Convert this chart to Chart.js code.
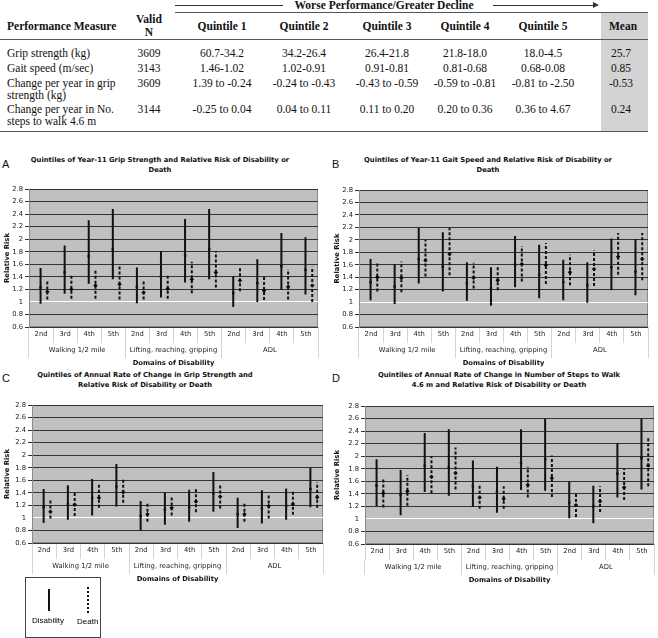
<!DOCTYPE html>
<html>
<head>
<meta charset="utf-8">
<script src="https://cdn.jsdelivr.net/npm/chart.js@4.4.1/dist/chart.umd.min.js"></script>
<style>
  body { margin: 0; background: #fff; }
  #page { position: relative; width: 658px; height: 638px; overflow: hidden; font-family: "Liberation Serif", serif; }
  .t { position: absolute; white-space: nowrap; font-size: 11.5px; line-height: 12px; color: #111; }
  .c { transform: translateX(-50%); }
  .b { font-weight: bold; }
  .rule { position: absolute; height: 0; border-top: 1px solid #555; }
  .panel { position: absolute; }
  .letter { position: absolute; font: 11px "Liberation Sans", sans-serif; color: #111; }
  .ptitle { position: absolute; font: bold 6.8px "DejaVu Sans", sans-serif; line-height: 10px; text-align: center; white-space: nowrap; transform: translateX(-50%); color: #111; }
  #legend { position: absolute; left: 25px; top: 577px; width: 74px; height: 59px; border: 1px solid #444; font: 8px "Liberation Sans", sans-serif; }
</style>
</head>
<body>
<div id="page">
  <div id="table"></div>
  <div class="letter" style="left:2px;top:158px">A</div>
  <div class="letter" style="left:332px;top:158px">B</div>
  <div class="letter" style="left:2px;top:372px">C</div>
  <div class="letter" style="left:332px;top:372px">D</div>
  <div class="ptitle" style="left:160px;top:155px">Quintiles of Year-11 Grip Strength and Relative Risk of Disability or<br>Death</div>
  <div class="ptitle" style="left:488px;top:155px">Quintiles of Year-11 Gait Speed and Relative Risk of Disability or<br>Death</div>
  <div class="ptitle" style="left:145px;top:370px">Quintiles of Annual Rate of Change in Grip Strength and<br>Relative Risk of Disability or Death</div>
  <div class="ptitle" style="left:499px;top:370px">Quintiles of Annual Rate of Change in Number of Steps to Walk<br>4.6 m and Relative Risk of Disability or Death</div>
  <div class="panel" style="left:0;top:182px;width:330px;height:188px"><canvas id="chartA"></canvas></div>
  <div class="panel" style="left:330px;top:182px;width:328px;height:188px"><canvas id="chartB"></canvas></div>
  <div class="panel" style="left:0;top:398px;width:330px;height:188px"><canvas id="chartC"></canvas></div>
  <div class="panel" style="left:330px;top:399px;width:328px;height:188px"><canvas id="chartD"></canvas></div>
  <div id="legend">
    <div style="position:absolute;left:22px;top:11px;width:0;height:22px;border-left:2px solid #111"></div>
    <div style="position:absolute;left:61px;top:9px;width:0;height:26px;border-left:2px dotted #111"></div>
    <div style="position:absolute;left:6px;top:38px">Disability</div>
    <div style="position:absolute;left:51px;top:39px">Death</div>
  </div>
</div>
<script>
// Table contents
const measures = [["Grip strength (kg)"], ["Gait speed (m/sec)"], ["Change per year in grip", "strength (kg)"], ["Change per year in No.", "steps to walk 4.6 m"]];
const validN = ["3609", "3143", "3609", "3144"];
const quintileHeads = ["Quintile 1", "Quintile 2", "Quintile 3", "Quintile 4", "Quintile 5"];
const quintileRanges = [
  ["60.7-34.2", "34.2-26.4", "26.4-21.8", "21.8-18.0", "18.0-4.5"],
  ["1.46-1.02", "1.02-0.91", "0.91-0.81", "0.81-0.68", "0.68-0.08"],
  ["1.39 to -0.24", "-0.24 to -0.43", "-0.43 to -0.59", "-0.59 to -0.81", "-0.81 to -2.50"],
  ["-0.25 to 0.04", "0.04 to 0.11", "0.11 to 0.20", "0.20 to 0.36", "0.36 to 4.67"]
];
const means = ["25.7", "0.85", "-0.53", "0.24"];

// Chart categories
const quintileLabels = ["2nd", "3rd", "4th", "5th", "2nd", "3rd", "4th", "5th", "2nd", "3rd", "4th", "5th"];
const domainLabels = ["Walking 1/2 mile", "Lifting, reaching, gripping", "ADL"];

// [lower CI, relative risk, upper CI] per category
const gripDisability = [[0.97,1.23,1.54],[1.13,1.47,1.90],[1.29,1.73,2.30],[1.36,1.84,2.48],[0.98,1.24,1.55],[1.07,1.40,1.81],[1.31,1.74,2.32],[1.36,1.84,2.48],[0.92,1.14,1.41],[1.00,1.30,1.68],[1.19,1.57,2.10],[1.12,1.51,2.03]];
const gripDeath = [[1.04,1.16,1.35],[1.05,1.20,1.44],[1.05,1.26,1.53],[1.04,1.28,1.59],[1.04,1.15,1.34],[1.05,1.21,1.44],[1.14,1.36,1.64],[1.23,1.47,1.81],[1.17,1.34,1.56],[1.03,1.18,1.42],[1.04,1.24,1.52],[1.00,1.26,1.56]];
const gaitDisability = [[1.03,1.32,1.69],[0.97,1.25,1.61],[1.30,1.69,2.19],[1.17,1.57,2.12],[1.02,1.30,1.64],[0.94,1.22,1.56],[1.24,1.60,2.06],[1.06,1.44,1.92],[1.03,1.32,1.68],[0.99,1.27,1.64],[1.19,1.56,2.02],[1.11,1.49,2.01]];
const gaitDeath = [[1.17,1.40,1.64],[1.16,1.39,1.65],[1.41,1.67,2.00],[1.43,1.77,2.19],[1.22,1.39,1.63],[1.19,1.35,1.59],[1.33,1.61,1.90],[1.29,1.59,1.95],[1.27,1.48,1.76],[1.26,1.53,1.83],[1.44,1.73,2.11],[1.35,1.69,2.11]];
const gripChangeDisability = [[0.92,1.17,1.46],[0.97,1.22,1.52],[1.04,1.32,1.62],[1.18,1.50,1.86],[0.80,1.03,1.27],[0.89,1.13,1.41],[0.94,1.17,1.45],[1.10,1.39,1.73],[0.84,1.06,1.32],[0.91,1.15,1.44],[0.97,1.19,1.47],[1.17,1.46,1.80]];
const gripChangeDeath = [[0.99,1.10,1.31],[1.03,1.21,1.41],[1.16,1.32,1.55],[1.24,1.41,1.64],[0.94,1.06,1.25],[1.04,1.16,1.35],[1.09,1.26,1.47],[1.15,1.34,1.55],[0.94,1.06,1.25],[0.99,1.19,1.39],[1.05,1.22,1.43],[1.16,1.33,1.57]];
const stepsChangeDisability = [[1.20,1.53,1.95],[1.06,1.38,1.78],[1.43,1.85,2.37],[1.37,1.82,2.43],[1.19,1.52,1.93],[1.10,1.43,1.83],[1.46,1.89,2.43],[1.45,1.95,2.60],[1.01,1.26,1.60],[0.93,1.20,1.53],[1.34,1.72,2.21],[1.47,1.97,2.60]];
const stepsChangeDeath = [[1.18,1.41,1.65],[1.21,1.44,1.70],[1.41,1.67,2.00],[1.47,1.73,2.14],[1.16,1.34,1.56],[1.16,1.32,1.52],[1.34,1.54,1.83],[1.35,1.65,2.01],[1.03,1.22,1.43],[1.11,1.28,1.52],[1.30,1.50,1.80],[1.52,1.85,2.29]];

const yMin = 0.6, yMax = 2.8, yStep = 0.2;

// ---- table ----
const table = document.getElementById("table");
function addText(txt, x, y, cls) {
  const d = document.createElement("div");
  d.className = "t " + (cls || "");
  d.style.left = x + "px";
  d.style.top = (y - 6) + "px";
  d.textContent = txt;
  table.appendChild(d);
}
function addBox(style) {
  const d = document.createElement("div");
  d.style.cssText = "position:absolute;" + style;
  table.appendChild(d);
}
const colX = [222, 304, 387, 465, 543];
const rowY = [53, 68, 83, 109];

addBox("left:601px;top:12px;width:47px;height:119px;background:#d3d3d3");
addBox("left:175px;top:5px;width:108px;border-top:1px solid #333");
addBox("left:493px;top:5px;width:100px;border-top:1px solid #333");
addBox("left:593px;top:2px;width:0;height:0;border-top:3.5px solid transparent;border-bottom:3.5px solid transparent;border-left:6px solid #333");
addText("Worse Performance/Greater Decline", 384, 5, "c b");
addBox("left:175px;top:12px;width:473px;border-top:1px solid #555");
addBox("left:0;top:39px;width:648px;border-top:1px solid #555");
addBox("left:0;top:131px;width:648px;border-top:1px solid #555");

addText("Performance Measure", 7, 26, "b");
addText("Valid", 149, 19, "c b");
addText("N", 149, 32, "c b");
quintileHeads.forEach((h, i) => addText(h, colX[i], 26, "c b"));
addText("Mean", 623, 26, "c b");

measures.forEach((lines, r) => {
  lines.forEach((ln, k) => addText(ln, 7, rowY[r] + k * 12));
  addText(validN[r], 149, rowY[r], "c");
  quintileRanges[r].forEach((v, i) => addText(v, colX[i], rowY[r], "c"));
  addText(means[r], 621, rowY[r], "c");
});

// ---- charts ----
const plotBg = {
  id: "plotBg",
  beforeDraw(chart) {
    const { ctx, chartArea: a } = chart;
    ctx.save();
    ctx.fillStyle = "#c0c0c0";
    ctx.fillRect(a.left, a.top, a.width, a.height);
    ctx.strokeStyle = "#8a8a8a";
    ctx.lineWidth = 1;
    ctx.strokeRect(a.left + 0.5, a.top + 0.5, a.width - 1, a.height - 1);
    ctx.restore();
  }
};

const tickFont = { family: "DejaVu Sans", size: 6.8 };
const boldFont = { family: "DejaVu Sans", size: 6.8, weight: "bold" };

function rangePoints(rows, off) {
  const pts = [];
  rows.forEach((r, i) => {
    pts.push({ x: i + off, y: r[0] }, { x: i + off, y: r[2] }, { x: i + off, y: null });
  });
  return pts;
}
function estimatePoints(rows, off) {
  return rows.map((r, i) => ({ x: i + off, y: r[1] }));
}

function makeChart(id, disability, death, yWidth, padTop, padRight) {
  const ctx = document.getElementById(id).getContext("2d");
  return new Chart(ctx, {
    type: "line",
    data: {
      datasets: [
        { data: rangePoints(disability, 0.48), xAxisID: "xl", borderColor: "#111", borderWidth: 2, pointRadius: 0, spanGaps: false },
        { data: rangePoints(death, 0.76), xAxisID: "xl", borderColor: "#111", borderWidth: 2, borderDash: [3, 2], pointRadius: 0, spanGaps: false },
        { data: estimatePoints(disability, 0.48), xAxisID: "xl", showLine: false, pointStyle: "rect", pointRadius: 1.7, backgroundColor: "#000", borderWidth: 0 },
        { data: estimatePoints(death, 0.76), xAxisID: "xl", showLine: false, pointStyle: "rectRot", pointRadius: 2.2, backgroundColor: "#000", borderWidth: 0 }
      ]
    },
    options: {
      responsive: true,
      maintainAspectRatio: false,
      animation: false,
      layout: { padding: { top: padTop, right: padRight, left: 0, bottom: 0 } },
      plugins: { legend: { display: false }, tooltip: { enabled: false } },
      scales: {
        xl: { type: "linear", display: false, min: 0, max: 12 },
        x: {
          type: "category", labels: quintileLabels, position: "bottom", offset: true, weight: 0,
          grid: { offset: true, drawOnChartArea: false, tickLength: 16, color: "#d4d4d4" },
          border: { display: false },
          ticks: { padding: -13, color: "#222", font: tickFont, autoSkip: false, maxRotation: 0 },
          afterFit: s => { s.height = 16; }
        },
        x2: {
          type: "category", labels: domainLabels, position: "bottom", offset: true, weight: 1,
          grid: { offset: true, drawOnChartArea: false, tickLength: 15, color: "#d4d4d4" },
          border: { display: false },
          ticks: { padding: -12, color: "#222", font: tickFont, autoSkip: false, maxRotation: 0 },
          title: { display: true, text: "Domains of Disability", color: "#111", font: boldFont, padding: { top: 0, bottom: 3 } },
          afterFit: s => { s.height = 27; }
        },
        y: {
          min: yMin, max: yMax,
          ticks: { stepSize: yStep, padding: 2, color: "#222", font: tickFont, callback: v => String(+v.toFixed(1)) },
          grid: { tickLength: 4, color: c => Math.abs(c.tick.value - 1) < 1e-6 ? "#ffffff" : "#333333" },
          border: { color: "#8a8a8a" },
          title: { display: true, text: "Relative Risk", color: "#111", font: boldFont, padding: { top: 3, bottom: 0 } },
          afterFit: s => { s.width = yWidth; }
        }
      }
    },
    plugins: [plotBg]
  });
}

makeChart("chartA", gripDisability, gripDeath, 29, 7, 12);
makeChart("chartB", gaitDisability, gaitDeath, 29, 8, 10);
makeChart("chartC", gripChangeDisability, gripChangeDeath, 32, 7, 7);
makeChart("chartD", stepsChangeDisability, stepsChangeDeath, 35, 7, 3);
</script>
</body>
</html>
